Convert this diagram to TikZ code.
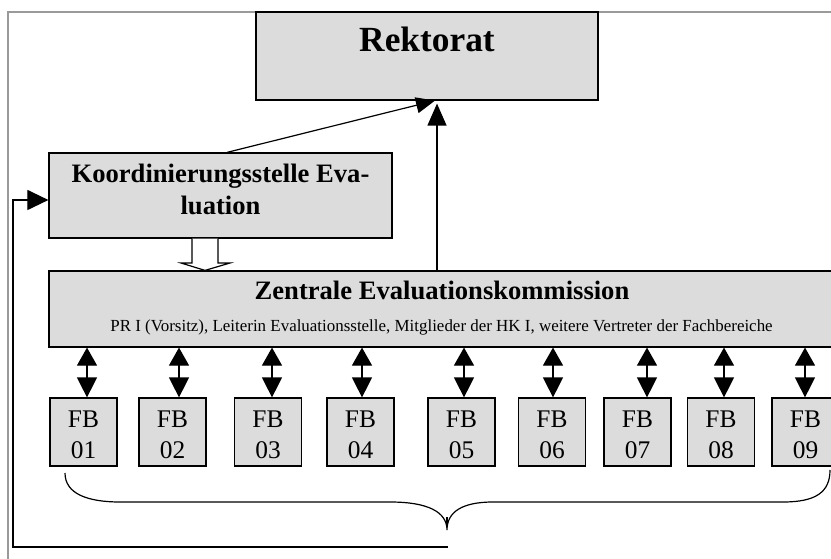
\documentclass[tikz,border=0pt]{standalone}
\usepackage{fontspec}
\setmainfont{Liberation Serif}
\usetikzlibrary{arrows.meta}
\definecolor{boxgray}{HTML}{DCDCDC}
\definecolor{framegray}{HTML}{9A9A9A}
\begin{document}
\begin{tikzpicture}[x=1bp,y=-1bp,
  box/.style={draw=black, fill=boxgray, line width=1.2bp, inner sep=0pt, rectangle},
  txt/.style={inner sep=0pt, anchor=base},
  ln/.style={draw=black, line width=1.2bp},
  tipA/.style={-{Triangle[width=16bp,length=19bp]}},
  tipB/.style={-{Triangle[width=19bp,length=22bp]}},
  dbl/.style={{Triangle[width=20bp,length=18bp]}-{Triangle[width=20bp,length=20bp]}},
  hol/.style={draw=black, fill=white, line width=1.2bp, line join=miter},
  bigbold/.style={font=\fontsize{35.5}{40}\selectfont\bfseries},
  midbold/.style={font=\fontsize{26.7}{32}\selectfont\bfseries},
  small/.style={font=\fontsize{17}{20}\selectfont},
  fbfont/.style={font=\fontsize{25.5}{31}\selectfont}]
\useasboundingbox (0,0) rectangle (831,559);
\clip (0,0) rectangle (831,559);
% frame
\draw[framegray, line width=2bp] (8,560) -- (8,12) -- (832,12);
% boxes
\node[box, minimum width=342bp, minimum height=88bp] (rek) at (427,56) {};
\node[txt, bigbold] (rekt) at (427,52) {Rektorat};
\node[box, minimum width=343bp, minimum height=85bp] (koord) at (220.5,195.5) {};
\node[txt, midbold] (koordt1) at (220.5,183) {Koordinierungsstelle Eva-};
\node[txt, midbold] (koordt2) at (220.5,215) {luation};
\node[box, minimum width=786bp, minimum height=76bp] (zek) at (442,309) {};
\node[txt, midbold] (zekt) at (442,300) {Zentrale Evaluationskommission};
\node[txt, small] (zeks) at (441.5,332) {PR I (Vorsitz), Leiterin Evaluationsstelle, Mitglieder der HK I, weitere Vertreter der Fachbereiche};
% FB boxes
\foreach \i/\c/\a in {01/83.5/87, 02/172.5/179, 03/268/272, 04/360.5/362, 05/461.5/464, 06/552/553, 07/637.5/647, 08/721/724, 09/805.5/805}{
  \node[box, minimum width=67bp, minimum height=68bp] (fb\i) at (\c,432) {};
  \node[txt, fbfont] (fbt\i) at (\c,427) {FB};
  \node[txt, fbfont] (fbn\i) at (\c,458) {\i};
  \coordinate (ax\i) at (\a,0);
  \draw[ln, dbl] (zek.south -| ax\i) -- (fb\i.north -| ax\i);
}
% arrows to Rektorat
\coordinate (dstart) at (227,0);
\coordinate (dend) at (435,0);
\coordinate (vx) at (437,0);
\draw[ln, tipA] (koord.north -| dstart) -- (rek.south -| dend);
\draw[ln, tipB] (zek.north -| vx) -- ([yshift=-3bp]rek.south -| vx);
% hollow arrow
\coordinate (hx) at (205,0);
\draw[hol] (koord.south -| 192,0) -- (192,263) -- (181,263) -- (zek.north -| hx) -- (230,263) -- (218,263) -- (koord.south -| 218,0);
% brace
\coordinate (btip) at (447,530);
\draw[ln] (65,473) .. controls (65,494) and (88,502) .. (120,502) -- (390,502)
  .. controls (428,502) and (447,512) .. (btip)
  .. controls (447,512) and (462,502) .. (493,502) -- (783,502)
  .. controls (816,502) and (830,492) .. (830,470);
% feedback loop
\draw[ln] ([yshift=5bp]btip) -- ([yshift=13bp]btip);
\coordinate (lb) at (448,547);
\coordinate (ly) at (0,200);
\draw[ln, -{Triangle[width=20bp,length=21bp]}] (lb) -- (13,547) -- (13,200) -- (koord.west |- ly);
\end{tikzpicture}
\end{document}
